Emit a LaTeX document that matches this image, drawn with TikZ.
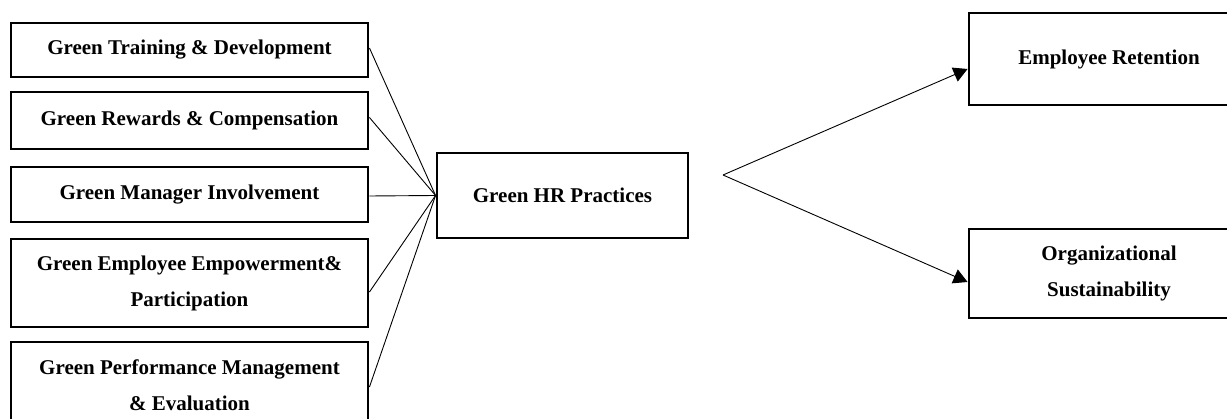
\documentclass[tikz,border=0pt]{standalone}
\usepackage{fontspec}
\setmainfont{Liberation Serif}
\usetikzlibrary{arrows.meta}
\tikzset{
  box/.style={draw, line width=2.9pt, rectangle, inner sep=0pt, align=center,
    font=\fontsize{21}{36}\selectfont\bfseries},
  lbox/.style={box, minimum width=357pt},
  conn/.style={line width=0.9pt},
  arr/.style={conn, -{Triangle[length=14pt,width=15pt]}}
}
\begin{document}
\begin{tikzpicture}[x=1pt,y=-1pt]
\clip (0,0) rectangle (1227,419);
\fill[white] (0,0) rectangle (1227,419);
% left boxes
\node[lbox, minimum height=54pt] (b1) at (189.5,50) {Green Training \& Development};
\node[lbox, minimum height=57pt] (b2) at (189.5,120.5) {Green Rewards \& Compensation};
\node[lbox, minimum height=55pt] (b3) at (189.5,194.5) {Green Manager Involvement};
\node[lbox, minimum height=88pt] (b4) at (189.5,283) {Green Employee Empowerment\&\\Participation};
\node[lbox, minimum height=86pt] (b5) at (189.5,385) {Green Performance Management\\\& Evaluation};
% centre
\node[box, minimum width=251pt, minimum height=85pt] (hr) at (562.5,195.5) {Green HR Practices};
% right
\node[box, minimum width=280pt, minimum height=92pt] (er) at (1109,59) {Employee Retention};
\node[box, minimum width=280pt, minimum height=89pt] (os) at (1109,273.5) {Organizational\\Sustainability};
\coordinate (v) at (723,175);
% connectors
\draw[conn] ([yshift=2pt]b1.east) -- (hr.west);
\draw[conn] ([yshift=3pt]b2.east) -- (hr.west);
\draw[conn] ([yshift=-1.5pt]b3.east) -- (hr.west);
\draw[conn] ([yshift=-9pt]b4.east) -- (hr.west);
\draw[conn] ([yshift=-2pt]b5.east) -- (hr.west);
\draw[arr] (v) -- ([yshift=-10pt]er.west);
\draw[arr] (v) -- ([yshift=-8.5pt]os.west);
\end{tikzpicture}
\end{document}
